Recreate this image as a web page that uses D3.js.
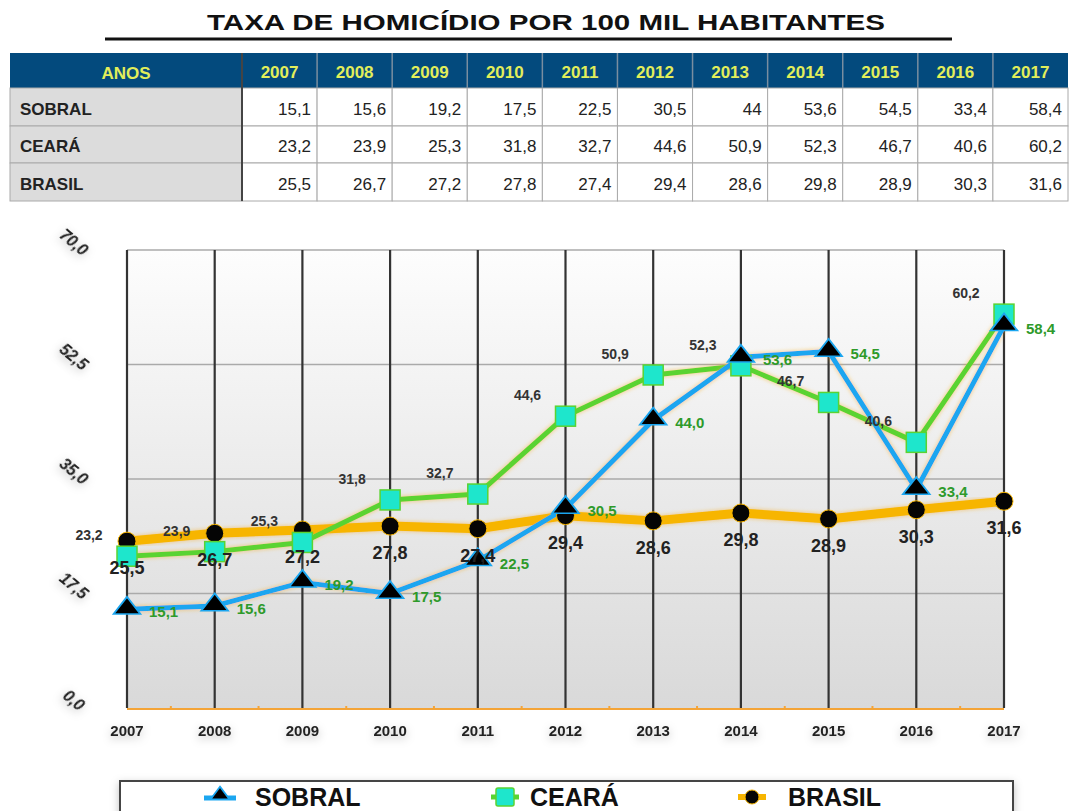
<!DOCTYPE html>
<html>
<head>
<meta charset="utf-8">
<style>
  body { margin: 0; background: #fff; }
  svg { display: block; font-family: "Liberation Sans", Arial, sans-serif; }
  .tbl text { font-size: 17px; }
  .tick-y { font-size: 16px; font-weight: bold; font-style: italic; fill: #222; }
  .tick-x { font-size: 15px; font-weight: bold; fill: #222; }
</style>
</head>
<body>
<div id="chart"></div>
<script src="https://cdnjs.cloudflare.com/ajax/libs/d3/7.8.5/d3.min.js"></script>
<script>
// ---- data ----
var years  = ["2007","2008","2009","2010","2011","2012","2013","2014","2015","2016","2017"];
var sobral = [15.1, 15.6, 19.2, 17.5, 22.5, 30.5, 44, 53.6, 54.5, 33.4, 58.4];
var ceara  = [23.2, 23.9, 25.3, 31.8, 32.7, 44.6, 50.9, 52.3, 46.7, 40.6, 60.2];
var brasil = [25.5, 26.7, 27.2, 27.8, 27.4, 29.4, 28.6, 29.8, 28.9, 30.3, 31.6];
var rowNames = ["SOBRAL", "CEARÁ", "BRASIL"];
var yTicks = [0, 17.5, 35, 52.5, 70];
var title = "TAXA DE HOMICÍDIO POR 100 MIL HABITANTES";

var W = 1077, H = 811;
var svg = d3.select("#chart").append("svg").attr("width", W).attr("height", H);
var defs = svg.append("defs");

var comma = function (v) { return String(v).replace(".", ","); };
var comma1 = function (v) { return v.toFixed(1).replace(".", ","); };

// filters
var sh = defs.append("filter").attr("id", "tshadow").attr("x", "-50%").attr("y", "-50%").attr("width", "200%").attr("height", "200%");
sh.append("feDropShadow").attr("dx", 0).attr("dy", 3).attr("stdDeviation", 4).attr("flood-color", "#000").attr("flood-opacity", 0.25);
var glow = defs.append("filter").attr("id", "glow").attr("x", "-10%").attr("y", "-10%").attr("width", "120%").attr("height", "120%");
glow.append("feDropShadow").attr("dx", 0).attr("dy", 0).attr("stdDeviation", 2).attr("flood-color", "#f7a81c").attr("flood-opacity", 0.6);
var bg = defs.append("linearGradient").attr("id", "bggrad").attr("x1", 0).attr("y1", 0).attr("x2", 0).attr("y2", 1);
bg.append("stop").attr("offset", "0%").attr("stop-color", "#fdfdfd");
bg.append("stop").attr("offset", "100%").attr("stop-color", "#d9d9d9");

// ---- title ----
svg.append("text")
  .attr("x", 546).attr("y", 30)
  .attr("text-anchor", "middle")
  .attr("textLength", 678).attr("lengthAdjust", "spacingAndGlyphs")
  .style("font-size", "22px").style("font-weight", "bold").style("fill", "#111")
  .text(title);
svg.append("line").attr("x1", 105).attr("x2", 952).attr("y1", 39).attr("y2", 39)
  .attr("stroke", "#111").attr("stroke-width", 3);

// ---- table ----
var tbl = svg.append("g").attr("class", "tbl");
var colX = d3.scaleBand().domain(years).range([242, 1068]);
var rowTop = [53, 88, 126, 163, 201];
var tableData = [sobral, ceara, brasil];

tbl.append("rect").attr("x", 10).attr("y", rowTop[0]).attr("width", 1058).attr("height", rowTop[1] - rowTop[0]).attr("fill", "#034a7d");
tbl.append("text").attr("x", 126).attr("y", 79).attr("text-anchor", "middle")
  .style("font-weight", "bold").style("fill", "#e2ee5a").text("ANOS");
years.forEach(function (y) {
  tbl.append("text").attr("x", colX(y) + colX.bandwidth() / 2).attr("y", 78).attr("text-anchor", "middle")
    .style("font-weight", "bold").style("fill", "#e2ee5a").text(y);
});
rowNames.forEach(function (name, r) {
  var y0 = rowTop[r + 1], y1 = rowTop[r + 2];
  tbl.append("rect").attr("x", 10).attr("y", y0).attr("width", 232).attr("height", y1 - y0)
    .attr("fill", "#dcdcdc").attr("stroke", "#aaa");
  tbl.append("text").attr("x", 20).attr("y", y1 - 11).style("font-weight", "bold").style("fill", "#222").text(name);
  years.forEach(function (yr, i) {
    tbl.append("rect").attr("x", colX(yr)).attr("y", y0).attr("width", colX.bandwidth()).attr("height", y1 - y0)
      .attr("fill", "#fff").attr("stroke", "#aaa");
    tbl.append("text").attr("x", colX(yr) + colX.bandwidth() - 6).attr("y", y1 - 11).attr("text-anchor", "end")
      .style("fill", "#222").text(comma(tableData[r][i]));
  });
});
years.forEach(function (yr) {
  tbl.append("line").attr("x1", colX(yr)).attr("x2", colX(yr)).attr("y1", rowTop[0]).attr("y2", rowTop[1])
    .attr("stroke", "#7a8ea0").attr("stroke-width", 1.5);
});
tbl.append("line").attr("x1", 242).attr("x2", 242).attr("y1", rowTop[0]).attr("y2", rowTop[4])
  .attr("stroke", "#444").attr("stroke-width", 2);

// ---- chart ----
var x = d3.scalePoint().domain(years).range([127, 1004]);
var y = d3.scaleLinear().domain([0, 70]).range([708, 250]);

var plot = svg.append("g");
plot.append("rect").attr("x", x.range()[0]).attr("y", y(70)).attr("width", x.range()[1] - x.range()[0]).attr("height", y(0) - y(70))
  .attr("fill", "url(#bggrad)");
yTicks.slice(1).forEach(function (t) {
  plot.append("line").attr("x1", x.range()[0]).attr("x2", x.range()[1]).attr("y1", y(t)).attr("y2", y(t))
    .attr("stroke", "#aaa").attr("stroke-width", 1.5);
});
years.forEach(function (yr) {
  plot.append("line").attr("x1", x(yr)).attr("x2", x(yr)).attr("y1", y(70)).attr("y2", y(0))
    .attr("stroke", "#333").attr("stroke-width", 2.2);
});
// bottom axis (orange) with minor ticks
plot.append("line").attr("x1", x.range()[0]).attr("x2", x.range()[1]).attr("y1", y(0) + 1).attr("y2", y(0) + 1)
  .attr("stroke", "#f4a437").attr("stroke-width", 2);
years.slice(0, -1).forEach(function (yr, i) {
  var mx = (x(yr) + x(years[i + 1])) / 2;
  plot.append("line").attr("x1", mx).attr("x2", mx).attr("y1", y(0) - 2).attr("y2", y(0) + 1)
    .attr("stroke", "#f4a437").attr("stroke-width", 2);
});

// y tick labels (rotated)
yTicks.forEach(function (t) {
  svg.append("text").attr("class", "tick-y")
    .attr("transform", "translate(74," + (y(t) - 8) + ") rotate(40)")
    .attr("text-anchor", "middle").attr("dy", "0.35em")
    .attr("filter", "url(#tshadow)")
    .text(comma1(t));
});
// x tick labels
years.forEach(function (yr) {
  svg.append("text").attr("class", "tick-x")
    .attr("x", x(yr)).attr("y", 736).attr("text-anchor", "middle")
    .attr("filter", "url(#tshadow)")
    .text(yr);
});

var line = d3.line().x(function (d, i) { return x(years[i]); }).y(function (d) { return y(d); });

// lines
plot.append("path").datum(brasil).attr("d", line).attr("fill", "none")
  .attr("stroke", "#f7b500").attr("stroke-width", 9).attr("stroke-linejoin", "round").attr("filter", "url(#glow)");
plot.append("path").datum(ceara).attr("d", line).attr("fill", "none")
  .attr("stroke", "#5ad332").attr("stroke-width", 5).attr("stroke-linejoin", "round").attr("filter", "url(#glow)");
plot.append("path").datum(sobral).attr("d", line).attr("fill", "none")
  .attr("stroke", "#1ba6f0").attr("stroke-width", 5).attr("stroke-linejoin", "round").attr("filter", "url(#glow)");

// markers
plot.selectAll(".mb").data(brasil).enter().append("circle")
  .attr("cx", function (d, i) { return x(years[i]); }).attr("cy", function (d) { return y(d); })
  .attr("r", 9).attr("fill", "#050505").attr("stroke", "#f7b500").attr("stroke-width", 1);
plot.selectAll(".mc").data(ceara).enter().append("rect")
  .attr("x", function (d, i) { return x(years[i]) - 10; }).attr("y", function (d) { return y(d) - 10; })
  .attr("width", 20).attr("height", 20).attr("fill", "#1ee6cc").attr("stroke", "#5ad332").attr("stroke-width", 1.5);
var tri = d3.symbol().type(d3.symbolTriangle).size(170);
plot.selectAll(".ms").data(sobral).enter().append("path")
  .attr("d", tri)
  .attr("transform", function (d, i) { return "translate(" + x(years[i]) + "," + (y(d) - 1) + ") scale(1.35,1)"; })
  .attr("fill", "#000").attr("stroke", "#1ba6f0").attr("stroke-width", 1.5);

// data labels
plot.selectAll(".lb").data(brasil).enter().append("text")
  .attr("x", function (d, i) { return x(years[i]); }).attr("y", function (d) { return y(d) + 33; })
  .attr("text-anchor", "middle").style("font-size", "18px").style("font-weight", "bold").style("fill", "#222")
  .text(comma1);
plot.selectAll(".lc").data(ceara).enter().append("text")
  .attr("x", function (d, i) { return x(years[i]) - 38; }).attr("y", function (d) { return y(d) - 16; })
  .attr("text-anchor", "middle").style("font-size", "14px").style("font-weight", "bold").style("fill", "#333")
  .text(comma1);
plot.selectAll(".ls").data(sobral).enter().append("text")
  .attr("x", function (d, i) { return x(years[i]) + 22; }).attr("y", function (d) { return y(d) + 8; })
  .style("font-size", "15px").style("font-weight", "bold").style("fill", "#2e9a2a")
  .text(comma1);

// ---- legend ----
var lg = svg.append("g");
lg.append("rect").attr("x", 120).attr("y", 781).attr("width", 893).attr("height", 50)
  .attr("fill", "#fff").attr("stroke", "#444").attr("stroke-width", 2).attr("filter", "url(#tshadow)");
var legendItems = [
  { name: "SOBRAL", tx: 255 },
  { name: "CEARÁ", tx: 530 },
  { name: "BRASIL", tx: 788 }
];
// sobral: blue line + triangle
lg.append("line").attr("x1", 204).attr("x2", 236).attr("y1", 798).attr("y2", 798).attr("stroke", "#1ba6f0").attr("stroke-width", 5);
lg.append("path").attr("d", d3.symbol().type(d3.symbolTriangle).size(90))
  .attr("transform", "translate(220,795) scale(1.3,1)").attr("fill", "#000").attr("stroke", "#1ba6f0").attr("stroke-width", 1.5);
// ceara: square
lg.append("line").attr("x1", 491).attr("x2", 519).attr("y1", 797).attr("y2", 797).attr("stroke", "#5ad332").attr("stroke-width", 5);
lg.append("rect").attr("x", 496).attr("y", 788).attr("width", 18).attr("height", 18).attr("rx", 2)
  .attr("fill", "#1ee6cc").attr("stroke", "#5ad332").attr("stroke-width", 1.5);
// brasil: circle
lg.append("line").attr("x1", 738).attr("x2", 766).attr("y1", 797).attr("y2", 797).attr("stroke", "#f7b500").attr("stroke-width", 6);
lg.append("circle").attr("cx", 752).attr("cy", 797).attr("r", 7).attr("fill", "#050505").attr("stroke", "#f7b500").attr("stroke-width", 1);
legendItems.forEach(function (it) {
  lg.append("text").attr("x", it.tx).attr("y", 806)
    .style("font-size", "25px").style("font-weight", "bold").style("fill", "#111")
    .text(it.name);
});
</script>
</body>
</html>
